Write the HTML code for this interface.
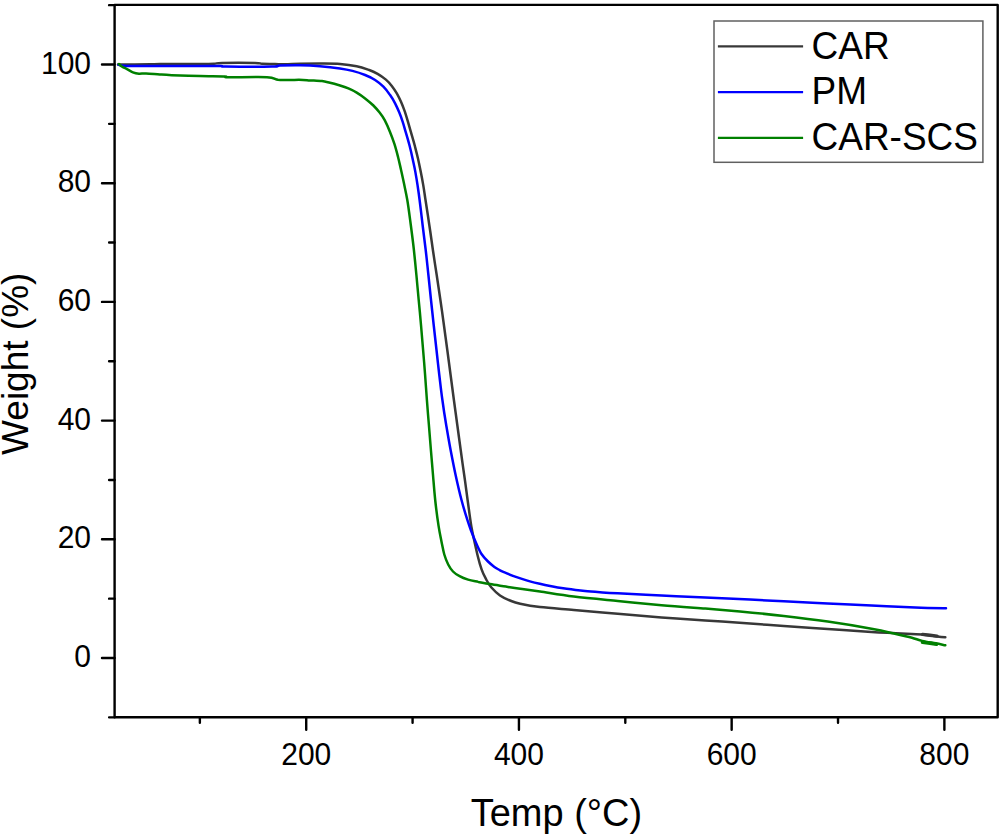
<!DOCTYPE html>
<html><head><meta charset="utf-8"><title>TGA</title>
<style>html,body{margin:0;padding:0;background:#fff;}svg{display:block;}</style>
</head><body>
<svg width="1004" height="838" viewBox="0 0 1004 838">
<rect width="1004" height="838" fill="#fff"/>
<g fill="none" stroke-linejoin="round" stroke-linecap="round">
<path d="M118.0 64.5C123.3 64.5 143.0 64.4 150.0 64.3C157.0 64.2 151.7 64.0 160.0 64.0C168.3 64.0 191.0 64.0 200.0 64.0C209.0 64.0 210.3 64.0 214.0 63.8C217.7 63.6 215.2 63.0 222.0 62.9C228.8 62.8 248.3 62.8 255.0 62.9C261.7 63.0 258.7 63.6 262.0 63.8C265.3 64.0 271.2 63.9 275.0 64.0C278.8 64.1 280.8 64.3 285.0 64.3C289.2 64.3 294.2 63.9 300.0 63.8C305.8 63.7 313.3 63.6 320.0 63.6C326.7 63.6 333.9 63.5 340.0 64.0C346.1 64.5 351.8 65.3 356.7 66.3C361.6 67.3 365.7 68.8 369.2 70.0C372.7 71.2 374.8 72.2 377.6 73.8C380.4 75.4 383.5 77.6 385.9 79.6C388.3 81.6 390.0 83.6 391.8 85.9C393.6 88.2 395.3 90.8 396.8 93.4C398.3 96.1 399.8 99.0 401.0 101.8C402.2 104.6 403.2 107.1 404.3 110.1C405.4 113.1 406.3 116.1 407.4 119.8C408.5 123.5 409.8 128.1 411.0 132.4C412.2 136.7 413.7 141.5 414.8 145.8C415.9 150.1 416.9 153.9 417.9 158.2C418.9 162.5 419.8 167.1 420.7 171.6C421.6 176.1 422.4 180.3 423.2 184.9C424.0 189.5 424.4 192.6 425.4 199.3C426.4 206.0 428.1 216.6 429.3 225.0C430.6 233.4 431.7 241.7 432.9 250.0C434.1 258.3 435.4 266.7 436.7 275.0C437.9 283.3 439.2 291.7 440.4 300.0C441.6 308.3 442.8 316.7 443.9 325.0C445.0 333.3 446.2 341.7 447.3 350.0C448.4 358.3 449.5 366.7 450.6 375.0C451.7 383.3 452.8 391.7 453.9 400.0C455.0 408.3 456.2 416.7 457.3 425.0C458.4 433.3 459.6 441.7 460.7 450.0C461.8 458.3 463.0 466.7 464.2 475.0C465.4 483.3 466.4 491.5 467.6 500.0C468.8 508.5 470.1 519.1 471.3 526.1C472.5 533.1 473.5 537.2 474.6 542.2C475.7 547.2 476.7 551.7 477.8 556.2C478.9 560.7 480.2 565.4 481.5 569.1C482.8 572.9 484.2 575.7 485.8 578.7C487.4 581.7 488.8 584.5 491.2 587.3C493.6 590.1 496.9 593.2 500.0 595.4C503.1 597.6 506.6 599.1 510.0 600.5C513.4 601.9 515.2 602.7 520.2 603.8C525.2 604.9 531.1 606.1 540.0 607.1C548.9 608.1 560.8 608.9 573.8 610.0C586.8 611.1 603.1 612.5 617.7 613.7C632.3 614.9 646.9 616.3 661.5 617.4C676.1 618.5 690.5 619.4 705.3 620.4C720.0 621.4 736.9 622.7 750.0 623.6C763.1 624.5 770.8 625.1 783.8 626.0C796.8 626.9 813.1 628.0 827.7 629.0C842.3 630.0 860.1 631.2 871.5 631.9C882.9 632.6 889.2 632.8 895.9 633.2C902.6 633.6 907.5 633.9 911.9 634.1C916.3 634.3 918.0 634.1 922.2 634.5C926.5 634.9 933.5 636.0 937.4 636.5C941.2 637.0 944.0 637.2 945.3 637.3" stroke="#383838" stroke-width="2.5"/>
<path d="M118.5 64.8C119.1 64.9 119.1 65.4 122.0 65.6C124.9 65.8 123.0 65.9 136.0 65.9C149.0 66.0 185.8 65.9 200.0 65.9C214.2 65.9 216.7 65.9 221.0 66.0C225.3 66.1 217.5 66.5 226.0 66.6C234.5 66.7 263.0 66.8 272.0 66.6C281.0 66.4 275.3 65.8 280.0 65.6C284.7 65.4 293.3 65.2 300.0 65.3C306.7 65.4 313.3 65.7 320.0 66.2C326.7 66.7 334.6 67.6 340.0 68.4C345.4 69.2 348.3 69.8 352.5 70.9C356.7 72.0 361.3 73.5 365.1 75.0C368.9 76.5 372.1 78.0 375.1 80.0C378.2 82.0 380.9 84.2 383.4 86.7C385.9 89.2 388.2 92.3 390.1 95.1C392.1 97.9 393.6 100.5 395.1 103.4C396.6 106.3 398.0 109.5 399.3 112.6C400.6 115.7 401.6 118.5 402.7 121.8C403.8 125.1 404.6 128.4 405.8 132.4C407.0 136.4 408.5 141.5 409.6 145.8C410.7 150.1 411.6 153.9 412.5 158.2C413.4 162.5 414.5 167.1 415.3 171.6C416.1 176.1 416.8 180.2 417.5 184.9C418.2 189.6 418.8 193.3 419.6 200.0C420.5 206.7 421.6 216.7 422.6 225.0C423.6 233.3 424.7 241.7 425.7 250.0C426.7 258.3 427.5 266.7 428.4 275.0C429.3 283.3 430.1 291.7 431.0 300.0C431.9 308.3 432.8 316.7 433.7 325.0C434.6 333.3 435.6 341.7 436.5 350.0C437.4 358.3 438.3 366.7 439.3 375.0C440.3 383.3 441.2 391.7 442.4 400.0C443.5 408.3 444.8 416.7 446.2 425.0C447.6 433.3 449.0 441.7 450.6 450.0C452.2 458.3 453.8 466.7 455.6 475.0C457.4 483.3 459.5 492.4 461.5 500.0C463.5 507.6 465.9 515.4 467.6 520.7C469.3 526.0 470.1 528.0 471.5 531.8C472.9 535.6 474.5 539.6 476.2 543.3C477.9 547.0 479.5 551.0 481.5 554.0C483.5 557.0 485.9 559.4 488.0 561.5C490.1 563.6 492.4 565.4 494.4 566.9C496.4 568.4 498.4 569.4 500.0 570.3C501.6 571.2 501.9 571.3 504.0 572.2C506.1 573.1 509.9 574.7 512.9 575.8C515.9 576.9 518.9 577.9 521.9 578.9C524.9 579.9 527.8 580.8 530.8 581.6C533.8 582.4 536.8 583.1 539.8 583.8C542.8 584.5 545.8 585.2 548.8 585.8C551.8 586.4 554.7 586.9 557.7 587.4C560.7 587.9 563.7 588.3 566.7 588.7C569.7 589.1 572.6 589.5 575.6 589.9C578.6 590.3 580.9 590.6 585.0 591.0C589.1 591.4 594.5 591.8 600.0 592.2C605.5 592.6 607.5 592.8 617.7 593.3C628.0 593.8 646.9 594.8 661.5 595.5C676.1 596.2 690.5 596.8 705.3 597.5C720.0 598.2 736.9 599.0 750.0 599.6C763.1 600.2 770.8 600.7 783.8 601.3C796.8 601.9 813.1 602.7 827.7 603.4C842.3 604.1 856.9 604.8 871.5 605.5C886.1 606.2 902.9 607.0 915.3 607.5C927.7 608.0 940.9 608.2 946.0 608.3" stroke="#0000ff" stroke-width="2.5"/>
<path d="M922.5 634.4L930 635.3L937 636.1" stroke="#383838" stroke-width="3.4"/>
<path d="M118.9 64.0C119.5 64.5 120.9 65.9 122.2 66.7C123.5 67.5 125.2 68.2 127.0 69.1C128.8 70.0 130.9 71.5 132.9 72.3C134.9 73.1 136.7 73.5 138.9 73.7C141.1 73.9 142.6 73.3 146.1 73.4C149.6 73.5 155.5 74.2 159.8 74.5C164.1 74.8 165.1 74.9 171.8 75.2C178.5 75.5 191.1 75.9 200.0 76.1C208.9 76.3 220.3 76.3 225.0 76.5C229.7 76.7 221.0 77.2 228.0 77.3C235.0 77.4 258.7 76.8 267.0 77.2C275.3 77.6 274.2 79.3 278.0 79.8C281.8 80.2 285.8 79.9 290.0 79.9C294.2 79.9 299.7 79.8 303.0 79.9C306.3 80.0 306.8 80.2 310.0 80.4C313.2 80.6 318.7 80.7 322.0 81.1C325.3 81.5 327.0 82.1 330.0 82.8C333.0 83.5 336.9 84.6 340.0 85.5C343.1 86.4 345.6 87.2 348.4 88.4C351.2 89.6 353.9 90.9 356.7 92.6C359.5 94.3 362.3 96.2 365.1 98.4C367.9 100.6 371.0 103.1 373.4 105.5C375.8 107.9 377.7 110.1 379.6 112.6C381.5 115.0 383.0 117.0 384.7 120.2C386.4 123.4 388.2 127.5 389.8 131.5C391.4 135.4 393.0 139.6 394.4 143.9C395.8 148.2 397.0 152.9 398.1 157.2C399.2 161.5 400.0 165.4 401.0 169.7C402.0 174.0 402.8 177.9 403.9 183.0C404.9 188.1 406.1 193.0 407.3 200.0C408.5 207.0 409.7 216.7 410.8 225.0C411.9 233.3 413.0 241.7 413.9 250.0C414.8 258.3 415.6 266.7 416.4 275.0C417.2 283.3 417.9 291.7 418.7 300.0C419.5 308.3 420.3 316.7 421.0 325.0C421.7 333.3 422.4 341.7 423.1 350.0C423.8 358.3 424.5 366.7 425.1 375.0C425.7 383.3 426.3 391.7 426.9 400.0C427.5 408.3 428.2 416.7 428.9 425.0C429.6 433.3 430.2 441.7 430.9 450.0C431.6 458.3 432.3 466.7 433.0 475.0C433.7 483.3 434.3 491.5 435.2 500.0C436.1 508.5 437.5 519.1 438.6 526.1C439.7 533.1 440.7 537.5 441.6 542.2C442.6 546.9 443.2 550.8 444.3 554.5C445.4 558.2 446.8 561.7 448.2 564.5C449.6 567.3 451.1 569.5 453.0 571.5C454.9 573.5 457.1 574.9 459.6 576.2C462.1 577.6 465.0 578.7 468.1 579.6C471.2 580.5 474.6 581.1 478.3 581.9C482.0 582.6 485.5 583.3 490.1 584.1C494.7 584.9 500.9 585.8 505.9 586.6C510.9 587.4 514.5 588.0 520.2 588.8C525.9 589.6 531.1 590.3 540.0 591.6C548.9 592.9 560.8 595.0 573.8 596.6C586.8 598.2 603.1 599.6 617.7 601.0C632.3 602.4 646.9 603.9 661.5 605.2C676.1 606.5 692.2 607.6 705.3 608.6C718.4 609.6 726.9 610.3 740.0 611.5C753.1 612.7 769.2 614.3 783.8 616.0C798.4 617.7 813.1 619.5 827.7 621.6C842.3 623.7 860.1 626.7 871.5 628.8C882.9 630.9 889.2 632.5 895.9 634.0C902.6 635.5 907.5 636.6 911.9 637.7C916.3 638.9 918.2 640.0 922.2 640.9C926.2 641.8 931.9 642.6 935.8 643.3C939.6 644.0 943.7 645.0 945.3 645.3" stroke="#008000" stroke-width="2.5"/>
<path d="M922.5 642.3L930 643.3L936.5 644.2" stroke="#008000" stroke-width="3.6"/>
</g>
<g stroke="#000" stroke-width="2.4" fill="none" stroke-linecap="round">
<rect x="114.60" y="4.90" width="883.10" height="712.30" stroke-linejoin="round"/>
<path d="M102.00 658.00H114.60M102.00 539.30H114.60M102.00 420.60H114.60M102.00 301.90H114.60M102.00 183.20H114.60M102.00 64.50H114.60M109.10 717.35H114.60M109.10 598.65H114.60M109.10 479.95H114.60M109.10 361.25H114.60M109.10 242.55H114.60M109.10 123.85H114.60M109.10 5.15H114.60M306.22 717.20V729.80M518.94 717.20V729.80M731.66 717.20V729.80M944.38 717.20V729.80M199.86 717.20V722.70M412.58 717.20V722.70M625.30 717.20V722.70M838.02 717.20V722.70"/>
</g>
<g font-family="Liberation Sans, Arial, sans-serif" font-size="30" fill="#000">
<text transform="translate(91.00 667.10) scale(1 1.03)" text-anchor="end">0</text>
<text transform="translate(91.00 548.40) scale(1 1.03)" text-anchor="end">20</text>
<text transform="translate(91.00 429.70) scale(1 1.03)" text-anchor="end">40</text>
<text transform="translate(91.00 311.00) scale(1 1.03)" text-anchor="end">60</text>
<text transform="translate(91.00 192.30) scale(1 1.03)" text-anchor="end">80</text>
<text transform="translate(91.00 73.60) scale(1 1.03)" text-anchor="end">100</text>
<text transform="translate(306.22 764.80) scale(1 1.03)" text-anchor="middle">200</text>
<text transform="translate(518.94 764.80) scale(1 1.03)" text-anchor="middle">400</text>
<text transform="translate(731.66 764.80) scale(1 1.03)" text-anchor="middle">600</text>
<text transform="translate(944.38 764.80) scale(1 1.03)" text-anchor="middle">800</text>
</g>
<text transform="translate(556.40 825.70) scale(1 1.035)" font-family="Liberation Sans, Arial, sans-serif" font-size="38" text-anchor="middle">Temp (&#176;C)</text>
<text transform="translate(28.40 363.80) rotate(-90)" font-family="Liberation Sans, Arial, sans-serif" font-size="37" text-anchor="middle">Weight (%)</text>
<rect x="714.00" y="21.00" width="268.90" height="141.30" fill="#fff" stroke="#606060" stroke-width="1.5"/>
<path d="M717.90 46.40H803.10" stroke="#383838" stroke-width="2.2"/>
<text transform="translate(811.50 58.50) scale(1 1.035)" font-family="Liberation Sans, Arial, sans-serif" font-size="37">CAR</text>
<path d="M717.90 92.10H803.10" stroke="#0000ff" stroke-width="2.2"/>
<text transform="translate(811.50 104.20) scale(1 1.035)" font-family="Liberation Sans, Arial, sans-serif" font-size="37">PM</text>
<path d="M717.90 137.80H803.10" stroke="#008000" stroke-width="2.2"/>
<text transform="translate(811.50 149.90) scale(1 1.035)" font-family="Liberation Sans, Arial, sans-serif" font-size="37">CAR-SCS</text>
</svg>
</body></html>
